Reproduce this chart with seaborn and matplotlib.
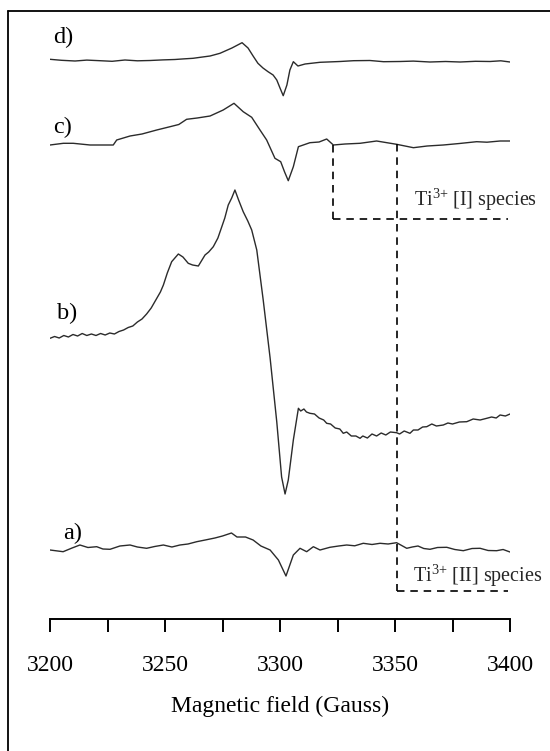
import numpy as np
import pandas as pd
import matplotlib
matplotlib.use("Agg")
import matplotlib.pyplot as plt
from matplotlib.lines import Line2D
import seaborn as sns

# ---------------- data ----------------
# field in Gauss, signal in arbitrary units relative to each trace's baseline
d_field = [3200.0, 3205.0, 3210.9, 3216.0, 3221.7, 3227.0, 3232.6, 3238.0, 3243.5, 3249.0,
           3254.3, 3258.0, 3262.2, 3266.0, 3269.6, 3273.9, 3279.1,
           3283.5, 3286.1, 3288.3, 3290.4, 3292.6, 3294.8, 3297.0, 3298.6, 3300.0, 3301.4,
           3303.0, 3304.3, 3305.8, 3307.8, 3310.9, 3317.4, 3326.1, 3332.0, 3339.1, 3345.0,
           3352.2, 3358.0, 3365.2, 3372.0, 3378.3, 3385.0, 3391.3, 3396.0, 3400.0]
d_signal = [1.2, 0.2, -0.5, 0.4, -0.2, -0.8, 0.5, -0.3, 0.0, 0.6,
            1.0, 1.6, 2.2, 3.4, 4.5, 7.2, 12.5,
            17.8, 12.5, 4.5, -2.8, -7.5, -11.2, -14.5, -19.5, -27.5, -35.2,
            -24.5, -9.5, -1.2, -5.5, -3.5, -1.8, -1.0, -0.2, 0.0, -1.2,
            -1.0, -0.6, -1.5, -1.0, -1.5, -0.8, -1.0, -0.3, -1.5]

c_field = [3195.3, 3200.0, 3205.8, 3210.1, 3217.4, 3227.5, 3229.0, 3234.8, 3240.0, 3246.4,
           3252.2, 3256.0, 3259.4, 3264.0, 3269.6, 3275.3, 3280.0, 3284.0, 3287.7, 3291.3,
           3294.2, 3297.8, 3300.3, 3302.0, 3303.6, 3305.8, 3308.0, 3313.0, 3317.0, 3320.3,
           3323.2, 3328.3, 3334.8, 3342.0, 3350.7, 3358.0, 3364.0, 3371.0, 3378.0, 3385.5,
           3390.0, 3395.7, 3400.0]
c_signal = [0.0, 0.0, 1.7, 1.7, 0.0, 0.0, 5.0, 9.0, 11.0, 15.0,
            18.3, 20.5, 25.7, 27.0, 29.0, 35.0, 41.7, 33.3, 27.7, 15.0,
            5.0, -13.3, -16.7, -27.0, -35.7, -21.7, -1.7, 2.3, 3.0, 6.0,
            0.0, 1.0, 1.7, 4.0, 0.7, -2.7, -1.0, 0.0, 1.5, 3.3,
            2.8, 4.0, 4.0]

b_field = [3200.0, 3202.0, 3204.0, 3206.0, 3208.0, 3210.0, 3212.0, 3214.0, 3216.0, 3218.0,
           3220.0, 3222.0, 3224.0, 3226.0, 3228.0, 3230.0, 3232.0, 3234.0, 3236.0, 3238.0,
           3240.0, 3242.0, 3244.0, 3246.0, 3248.0, 3249.3, 3251.0, 3252.9, 3255.8, 3257.8,
           3260.1, 3262.0, 3264.5, 3267.4, 3269.0, 3271.0, 3273.0, 3274.7, 3276.0, 3277.5,
           3279.0, 3280.4, 3282.0, 3284.0, 3286.0, 3287.7, 3289.9, 3292.7, 3295.7, 3298.6,
           3300.7, 3302.2, 3303.6, 3305.8, 3308.0, 3309.0, 3310.4, 3311.5, 3313.0, 3315.0,
           3317.0, 3319.0, 3320.3, 3322.0, 3324.0, 3326.0, 3327.5, 3329.0, 3331.0, 3333.0,
           3334.8, 3336.0, 3338.0, 3340.0, 3342.0, 3344.0, 3346.0, 3348.0, 3350.7, 3352.0,
           3354.0, 3356.5, 3358.0, 3360.0, 3362.0, 3363.8, 3366.0, 3368.0, 3371.0, 3373.0,
           3375.0, 3378.0, 3381.2, 3384.0, 3387.0, 3389.9, 3392.0, 3394.0, 3395.7, 3398.0,
           3400.0]
b_signal = [-0.3, 1.5, 0.0, 2.5, 1.0, 3.5, 2.0, 4.5, 2.5, 4.0,
            2.5, 4.5, 3.0, 5.0, 4.0, 6.5, 8.0, 10.5, 12.0, 16.0,
            19.0, 24.0, 30.0, 38.0, 46.0, 53.0, 65.0, 76.3, 84.0, 81.0,
            74.7, 73.0, 72.0, 83.0, 86.0, 91.3, 100.0, 111.3, 120.0, 133.0,
            140.0, 148.0, 138.0, 126.3, 117.0, 108.0, 88.0, 38.0, -20.0, -84.0,
            -139.0, -156.0, -142.0, -102.0, -70.3, -73.0, -71.0, -74.0, -75.3, -76.0,
            -80.0, -82.0, -85.3, -86.0, -90.0, -91.0, -95.3, -94.0, -98.0, -98.0,
            -100.3, -98.0, -100.0, -96.0, -98.0, -95.0, -97.0, -94.0, -94.7, -96.0,
            -93.0, -95.3, -92.0, -92.0, -89.0, -88.7, -86.0, -88.0, -87.0, -85.0,
            -86.0, -84.0, -83.7, -81.0, -82.0, -80.3, -79.0, -80.0, -77.0, -78.0,
            -76.0]

a_field = [3200.0, 3205.7, 3209.6, 3213.0, 3216.5, 3220.3, 3223.0, 3226.1, 3230.4, 3234.8,
           3238.0, 3242.0, 3245.5, 3249.3, 3253.0, 3256.5, 3260.0, 3263.8, 3267.5, 3271.7,
           3275.0, 3278.9, 3281.3, 3285.0, 3288.3, 3291.7, 3295.7, 3299.3, 3302.6, 3305.8,
           3308.7, 3311.6, 3314.5, 3317.4, 3321.7, 3325.5, 3329.0, 3332.5, 3336.2, 3340.0,
           3343.5, 3347.0, 3350.7, 3355.1, 3357.5, 3360.0, 3362.5, 3365.2, 3368.5, 3372.5,
           3376.0, 3379.7, 3383.5, 3387.0, 3390.5, 3394.2, 3397.0, 3400.0]
a_signal = [0.0, -1.7, 2.0, 5.0, 2.5, 3.3, 1.0, 0.7, 4.0, 5.0,
            3.0, 1.7, 3.5, 5.0, 3.0, 5.0, 6.0, 8.3, 10.0, 12.0,
            14.0, 17.0, 13.0, 13.0, 10.0, 4.0, 0.0, -10.0, -26.0, -5.0,
            1.7, -1.7, 3.3, 0.0, 2.7, 4.0, 5.0, 4.2, 6.7, 5.5,
            6.7, 6.0, 7.3, 1.7, 3.0, 4.0, 1.5, 0.7, 2.5, 2.7,
            0.5, -0.7, 1.5, 1.7, -0.5, -0.7, 0.5, -2.0]

trace_labels = ["a)", "b)", "c)", "d)"]
species_labels = ["Ti$^{3{+}}$ [I] species", "Ti$^{3{+}}$ [II] species"]
species_fields = [3323.2, 3350.9]
tick_values = [3200, 3250, 3300, 3350, 3400]
x_label = "Magnetic field (Gauss)"

# ---------------- layout / style ----------------
W, H, DPI = 550, 751, 100
offsets = {"a)": 69.3, "b)": 281.3, "c)": 474.3, "d)": 558.8}

sns.set_theme(style="white")
plt.rcParams["font.family"] = ["Liberation Serif", "DejaVu Serif"]
plt.rcParams["mathtext.fontset"] = "custom"
plt.rcParams["mathtext.rm"] = "Liberation Serif"
plt.rcParams["mathtext.it"] = "Liberation Serif:italic"

frames = []
for lab, fx, sy in [("a)", a_field, a_signal), ("b)", b_field, b_signal),
                    ("c)", c_field, c_signal), ("d)", d_field, d_signal)]:
    frames.append(pd.DataFrame({"field": fx, "y": np.array(sy) + offsets[lab], "trace": lab}))
df = pd.concat(frames, ignore_index=True)

fig = plt.figure(figsize=(W / DPI, H / DPI), dpi=DPI)
ax_left, ax_right = 50 / W, 510 / W
ax_bottom, ax_top = (H - 619.3) / H, (H - 11) / H
ax = fig.add_axes([ax_left, ax_bottom, ax_right - ax_left, ax_top - ax_bottom])

for lab in trace_labels:
    sub = df[df["trace"] == lab]
    sns.lineplot(data=sub, x="field", y="y", ax=ax, color="#2b2b2b", linewidth=1.0,
                 estimator=None, sort=False, legend=False)

ax.set_xlim(3200, 3400)
ax.set_ylim(0, 608.3)

# trace labels
label_pos = {"d)": (3201.3, 582.3), "c)": (3201.3, 491.8), "b)": (3203.0, 306.3), "a)": (3205.7, 86.3)}
for lab in trace_labels:
    x0, y0 = label_pos[lab]
    ax.text(x0, y0, lab, fontsize=17.5, ha="left", va="center", color="black")

# species dashed markers
dash = dict(color="black", linewidth=1.2, linestyle=(0, (4.5, 3.5)))
ax.plot([species_fields[0], species_fields[0]], [474.3, 400.3], **dash)
ax.plot([species_fields[0], 3399.1], [400.3, 400.3], **dash)
ax.plot([species_fields[1], species_fields[1]], [475.3, 28.3], **dash)
ax.plot([species_fields[1], 3399.1], [28.3, 28.3], **dash)
ax.text(3358.3, 419.5, species_labels[0], fontsize=14.5, ha="left", va="center")
ax.text(3357.8, 43.0, species_labels[1], fontsize=14.5, ha="left", va="center")

# axes styling
for s in ["left", "top", "right"]:
    ax.spines[s].set_visible(False)
ax.spines["bottom"].set_color("black")
ax.spines["bottom"].set_linewidth(1.4)
ax.set_yticks([])
ax.set_xticks(tick_values)
ax.set_xticks([3225, 3275, 3325, 3375], minor=True)
ax.tick_params(axis="x", which="both", direction="out", length=9.5, width=1.4,
               color="black", bottom=True)
ax.tick_params(axis="x", which="major", labelsize=17, pad=16.5, labelcolor="black")
ax.set_xticklabels([str(t) for t in tick_values])
ax.set_xlabel(x_label, fontsize=17, labelpad=14, color="black")
ax.set_ylabel("")
ax.patch.set_alpha(0)

# outer frame (top and left edges visible in the reference)
fig.add_artist(Line2D([8 / W, 1.0], [(H - 11) / H, (H - 11) / H], transform=fig.transFigure,
                      color="black", linewidth=1.3))
fig.add_artist(Line2D([8 / W, 8 / W], [0.0, (H - 11) / H], transform=fig.transFigure,
                      color="black", linewidth=1.3))

fig.savefig("out.png", dpi=DPI)
